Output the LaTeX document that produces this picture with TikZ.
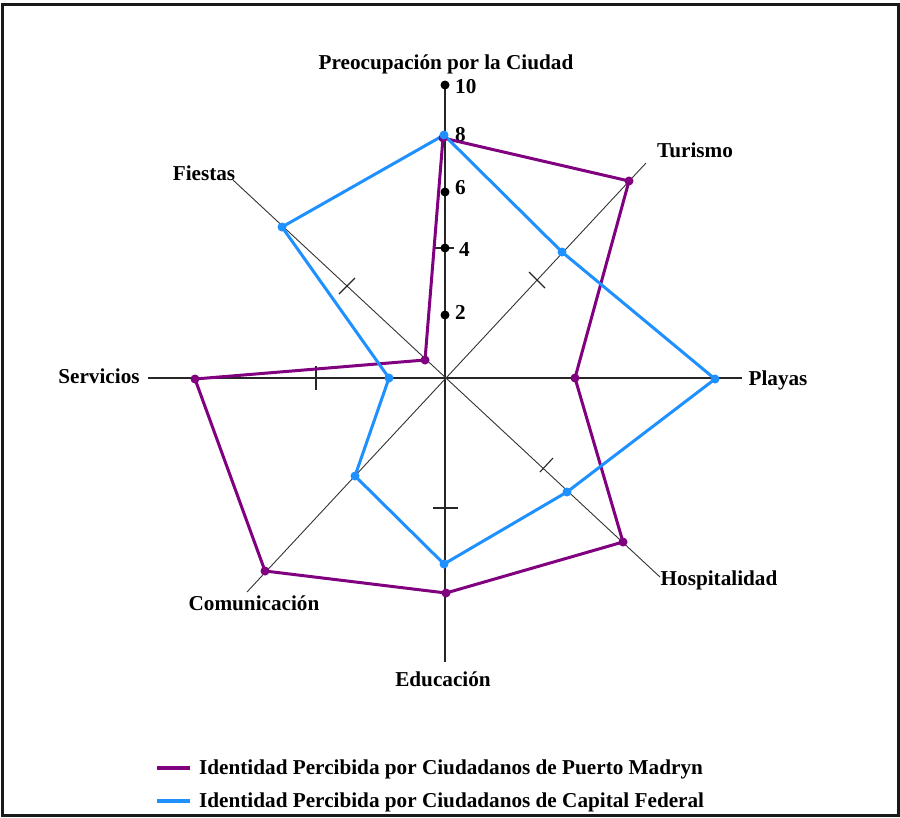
\documentclass[tikz,border=0pt]{standalone}
\usepackage{fontspec}
\setmainfont{Liberation Serif}
\definecolor{madryn}{HTML}{800080}
\definecolor{capital}{HTML}{1E90FF}
\begin{document}
\begin{tikzpicture}[x=1pt,y=-1pt,
  axis/.style={line width=1.4pt, black!85},
  diag/.style={line width=0.9pt, black!80},
  tickmark/.style={line width=1.1pt, black!85},
  serie/.style={line width=3pt, line join=round},
  lbl/.style={font=\bfseries\fontsize{21.2}{25}\selectfont, inner sep=0pt, anchor=base},
  numlbl/.style={font=\bfseries\fontsize{21.2}{25}\selectfont, inner sep=0pt, anchor=base west},
  dot/.style={circle, fill=#1, inner sep=0pt, minimum size=9pt}
]
\useasboundingbox (0,0) rectangle (900,817);
\fill[white] (0,0) rectangle (900,817);
\draw[line width=3pt, black!90] (2.5,4) rectangle (898,815.5);

% centre and axis ends
\coordinate (O) at (445,378);
\coordinate (aTop) at (445,85);
\coordinate (aBot) at (445,662);
\coordinate (aLeft) at (148,378);
\coordinate (aRight) at (742,378);
\coordinate (aTur) at (646,163);
\coordinate (aCom) at (247,592);
\coordinate (aFie) at (233,180);
\coordinate (aHos) at (660,577);

% axes
\draw[axis] (aTop) -- (aBot);
\draw[axis] (aLeft) -- (aRight);
\draw[diag] (aCom) -- (aTur);
\draw[diag] (aFie) -- (aHos);

% tick marks
\draw[tickmark] (435,248) -- (454,248);
\draw[tickmark] (433,508) -- (458,508);
\draw[tickmark] (316,366) -- (316,390);
\draw[tickmark] (339,294) -- (355,278);
\draw[tickmark] (529,272) -- (545,288);
\draw[tickmark] (540,472) -- (553,458);

% scale on the vertical axis
\node[dot=black] (s10) at (445,85) {};
\node[dot=black] (s6) at (445,192) {};
\node[dot=black] (s4) at (445,248) {};
\node[dot=black] (s2) at (445,315) {};
\node[numlbl] (n10) at (455,93) {10};
\node[numlbl] (n8) at (455,141) {8};
\node[numlbl] (n6) at (455,194) {6};
\node[numlbl] (n4) at (459,256) {4};
\node[numlbl] (n2) at (455,319) {2};

% axis titles
\node[lbl] (tPre) at (446,69) {Preocupación por la Ciudad};
\node[lbl] (tTur) at (695,157) {Turismo};
\node[lbl] (tPla) at (778,385) {Playas};
\node[lbl] (tHos) at (719,585) {Hospitalidad};
\node[lbl] (tEdu) at (443,686) {Educación};
\node[lbl] (tCom) at (254,610) {Comunicación};
\node[lbl] (tSer) at (99,383) {Servicios};
\node[lbl] (tFie) at (204,180) {Fiestas};

% Puerto Madryn values
\coordinate (m1) at (443,138);
\coordinate (m2) at (629,181);
\coordinate (m3) at (575,378);
\coordinate (m4) at (623,542);
\coordinate (m5) at (446,593);
\coordinate (m6) at (265,571);
\coordinate (m7) at (195,379);
\coordinate (m8) at (425,360);

% Capital Federal values
\coordinate (c1) at (444,135);
\coordinate (c2) at (562,252);
\coordinate (c3) at (715,379);
\coordinate (c4) at (567,492);
\coordinate (c5) at (444,564);
\coordinate (c6) at (355,476);
\coordinate (c7) at (389,378);
\coordinate (c8) at (282,227);

\draw[serie, madryn] (m1) -- (m2) -- (m3) -- (m4) -- (m5) -- (m6) -- (m7) -- (m8) -- cycle;
\draw[serie, capital] (c1) -- (c2) -- (c3) -- (c4) -- (c5) -- (c6) -- (c7) -- (c8) -- cycle;
\foreach \i in {1,...,8} {
  \fill[madryn] (m\i) circle (4.5pt);
  \fill[capital] (c\i) circle (4.5pt);
}

% legend
\coordinate (k1a) at (157,768);
\coordinate (k1b) at (190,768);
\coordinate (k2a) at (157,801);
\coordinate (k2b) at (190,801);
\draw[madryn, line width=4pt] (k1a) -- (k1b);
\draw[capital, line width=4pt] (k2a) -- (k2b);
\node[numlbl] (leg1) at (199,774) {Identidad Percibida por Ciudadanos de Puerto Madryn};
\node[numlbl] (leg2) at (199,807) {Identidad Percibida por Ciudadanos de Capital Federal};
\end{tikzpicture}
\end{document}
